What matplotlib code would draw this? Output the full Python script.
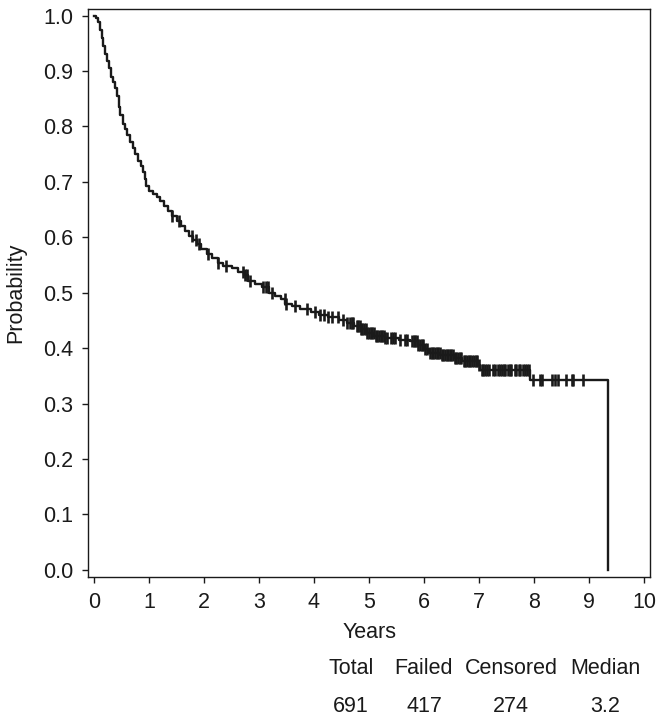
import matplotlib
matplotlib.use("Agg")
import matplotlib.pyplot as plt
import numpy as np

plt.rcParams["font.family"] = ["Liberation Sans", "DejaVu Sans"]

# Kaplan-Meier step curve (years, survival probability)
step_years = [
    0.00, 0.04, 0.08, 0.11, 0.14, 0.17, 0.20, 0.23, 0.27, 0.31, 0.35, 0.39,
    0.42, 0.45, 0.48, 0.52, 0.56, 0.60, 0.65, 0.70, 0.75, 0.80, 0.85, 0.89,
    0.92, 0.95, 1.00, 1.08, 1.14, 1.20, 1.28, 1.35, 1.42, 1.50, 1.58, 1.65,
    1.72, 1.80, 1.88, 1.95, 2.05, 2.15, 2.25, 2.35, 2.50, 2.62, 2.72, 2.80,
    2.92, 3.05, 3.18, 3.30, 3.40, 3.48, 3.60, 3.75, 3.95, 4.10, 4.25, 4.45,
    4.60, 4.72, 4.85, 4.95, 5.10, 5.30, 5.55, 5.75, 5.90, 6.00, 6.10, 6.30,
    6.55, 6.70, 6.98, 7.02, 7.92, 9.35,
]
step_prob = [
    1.000, 0.995, 0.988, 0.975, 0.960, 0.945, 0.930, 0.918, 0.905, 0.890, 0.880, 0.870,
    0.855, 0.835, 0.820, 0.805, 0.795, 0.785, 0.772, 0.762, 0.750, 0.738, 0.728, 0.718,
    0.705, 0.692, 0.683, 0.678, 0.672, 0.665, 0.656, 0.648, 0.638, 0.630, 0.620, 0.612,
    0.603, 0.596, 0.588, 0.578, 0.570, 0.562, 0.553, 0.548, 0.545, 0.538, 0.532, 0.522,
    0.516, 0.510, 0.499, 0.494, 0.488, 0.480, 0.476, 0.470, 0.466, 0.460, 0.456, 0.450,
    0.446, 0.440, 0.434, 0.428, 0.422, 0.418, 0.415, 0.412, 0.405, 0.398, 0.392, 0.388,
    0.382, 0.376, 0.370, 0.361, 0.343, 0.000,
]

# censoring times (tick marks on the curve)
censor_years = [
    1.42, 1.55, 1.78, 1.86, 1.90, 2.07, 2.25, 2.40, 2.71, 2.74, 2.78, 2.84,
    3.07, 3.12, 3.16, 3.24, 3.47, 3.50, 3.65, 3.87, 4.02, 4.11, 4.18, 4.25,
    4.33, 4.44, 4.53, 4.60, 4.65, 4.69, 4.71,
    4.78, 4.80, 4.83, 4.86, 4.88, 4.91, 4.94, 4.97, 5.00, 5.03, 5.06, 5.09,
    5.12, 5.15, 5.18, 5.21, 5.24, 5.27, 5.30, 5.33,
    5.40, 5.44, 5.48, 5.56, 5.65, 5.69, 5.78, 5.81, 5.84, 5.87, 5.90, 5.93,
    5.96, 5.99, 6.02, 6.05,
    6.11, 6.14, 6.17, 6.20, 6.23, 6.26, 6.29, 6.32, 6.35, 6.38, 6.41, 6.44,
    6.47, 6.50, 6.53, 6.56, 6.59, 6.62, 6.65, 6.68, 6.72, 6.75, 6.78, 6.81,
    6.84, 6.88, 6.91, 6.94, 6.97, 7.00,
    7.05, 7.08, 7.11, 7.15, 7.18, 7.26, 7.30, 7.35, 7.38, 7.42, 7.45, 7.48,
    7.52, 7.56, 7.59, 7.65, 7.68, 7.72, 7.75, 7.80, 7.84, 7.88, 7.91,
    7.98, 8.11, 8.14, 8.32, 8.38, 8.44, 8.59, 8.69, 8.71, 8.89,
]

summary_cols = ["Total", "Failed", "Censored", "Median"]
summary_vals = ["691", "417", "274", "3.2"]

x_ticks = list(range(0, 11))
y_ticks = [0.0, 0.1, 0.2, 0.3, 0.4, 0.5, 0.6, 0.7, 0.8, 0.9, 1.0]

W, H = 664, 721
fig = plt.figure(figsize=(W / 100, H / 100), dpi=100)
ax = fig.add_axes([88.3 / W, 1 - 577 / H, (650 - 88.3) / W, (577 - 9) / H])

t = np.array(step_years)
s = np.array(step_prob)
ax.plot(t, s, drawstyle="steps-post", color="#1a1a1a", lw=1.7)

c = np.array(censor_years)
idx = np.searchsorted(t, c, side="right") - 1
ax.plot(c, s[idx], ls="none", marker="|", ms=8.5, mew=1.9, color="#1a1a1a")

ax.set_xlim(-0.104, 10.11)
ax.set_ylim(-0.013, 1.012)
ax.set_xticks(x_ticks)
ax.set_xticklabels([str(v) for v in x_ticks])
ax.set_yticks(y_ticks)
ax.set_yticklabels([f"{v:.1f}" for v in y_ticks])
ax.tick_params(direction="out", length=4.5, width=1.0, pad=6.5, labelsize=15.5,
               color="#1a1a1a", labelcolor="#1a1a1a")
for sp in ax.spines.values():
    sp.set_linewidth(1.0)
    sp.set_color("#1a1a1a")

fs = 15.5
fig.text(370 / W, 1 - 632 / H, "Years", ha="center", va="center", fontsize=fs, color="#1a1a1a")
fig.text(16 / W, 1 - 293 / H, "Probability", ha="center", va="center", rotation=90,
         fontsize=fs, color="#1a1a1a")

col_x = [351, 424, 511, 605]
for x, head, val in zip(col_x, summary_cols, summary_vals):
    fig.text(x / W, 1 - 669 / H, head, ha="center", va="center", fontsize=fs, color="#1a1a1a")
    fig.text(x / W, 1 - 706 / H, val, ha="center", va="center", fontsize=fs, color="#1a1a1a")

fig.savefig("out.png", dpi=100)
